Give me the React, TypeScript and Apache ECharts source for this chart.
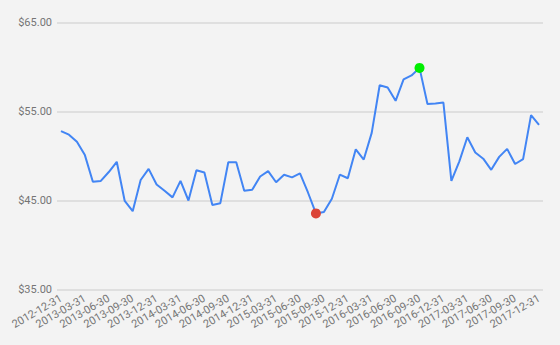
import React, { useEffect, useRef } from "react";
import * as echarts from "echarts";

const dates: string[] = [
  "2012-12-31",
  "2013-01-31", "2013-02-28", "2013-03-31", "2013-04-30", "2013-05-31", "2013-06-30",
  "2013-07-31", "2013-08-31", "2013-09-30", "2013-10-31", "2013-11-30", "2013-12-31",
  "2014-01-31", "2014-02-28", "2014-03-31", "2014-04-30", "2014-05-31", "2014-06-30",
  "2014-07-31", "2014-08-31", "2014-09-30", "2014-10-31", "2014-11-30", "2014-12-31",
  "2015-01-31", "2015-02-28", "2015-03-31", "2015-04-30", "2015-05-31", "2015-06-30",
  "2015-07-31", "2015-08-31", "2015-09-30", "2015-10-31", "2015-11-30", "2015-12-31",
  "2016-01-31", "2016-02-29", "2016-03-31", "2016-04-30", "2016-05-31", "2016-06-30",
  "2016-07-31", "2016-08-31", "2016-09-30", "2016-10-31", "2016-11-30", "2016-12-31",
  "2017-01-31", "2017-02-28", "2017-03-31", "2017-04-30", "2017-05-31", "2017-06-30",
  "2017-07-31", "2017-08-31", "2017-09-30", "2017-10-31", "2017-11-30", "2017-12-31",
];

const prices: number[] = [
  52.8, 52.4, 51.6, 50.1, 47.1, 47.2, 48.2, 49.35, 44.95, 43.8,
  47.3, 48.55, 46.8, 46.1, 45.35, 47.2, 45.0, 48.4, 48.15, 44.5,
  44.7, 49.3, 49.3, 46.1, 46.2, 47.7, 48.3, 47.05, 47.9, 47.6,
  48.05, 45.9, 43.55, 43.7, 45.2, 47.9, 47.5, 50.75, 49.6, 52.6,
  57.95, 57.7, 56.2, 58.6, 59.05, 59.9, 55.85, 55.9, 56.0, 47.2,
  49.4, 52.1, 50.4, 49.7, 48.45, 49.9, 50.8, 49.1, 49.65, 54.6,
  53.5,
];

const yTicks = { min: 35, max: 65, interval: 10 };

export default function App() {
  const ref = useRef<HTMLDivElement>(null);
  useEffect(() => {
    if (!ref.current) return;
    const chart = echarts.init(ref.current, null, { renderer: "svg" });
    chart.setOption({
      animation: false,
      backgroundColor: "#f3f3f3",
      grid: { left: 57, right: 17, top: 22.5, bottom: 55.5, containLabel: false },
      xAxis: {
        type: "category",
        data: dates,
        boundaryGap: true,
        axisLine: { show: false },
        axisTick: { show: false },
        axisLabel: {
          interval: 2,
          rotate: 30,
          color: "#757575",
          fontFamily: "Roboto",
          fontSize: 11,
          margin: 8,
        },
      },
      yAxis: {
        type: "value",
        min: yTicks.min,
        max: yTicks.max,
        interval: yTicks.interval,
        axisLine: { show: false },
        axisTick: { show: false },
        axisLabel: {
          color: "#757575",
          fontFamily: "Roboto",
          fontSize: 11,
          margin: 5,
          formatter: (v: number) => "$" + v.toFixed(2),
        },
        splitLine: { lineStyle: { color: "#d9d9d9", width: 1.5 } },
      },
      series: [
        {
          type: "line",
          data: prices,
          symbol: "none",
          lineStyle: { color: "#4285f4", width: 2 },
          markPoint: {
            symbol: "circle",
            symbolSize: 10,
            label: { show: false },
            data: [
              { type: "min", itemStyle: { color: "#db4437" } },
              { type: "max", itemStyle: { color: "#00ee00" } },
            ],
          },
        },
      ],
    });
    return () => chart.dispose();
  }, []);
  return (
    <div
      ref={ref}
      style={{ position: "fixed", left: 0, top: 0, width: 560, height: 345 }}
    />
  );
}
